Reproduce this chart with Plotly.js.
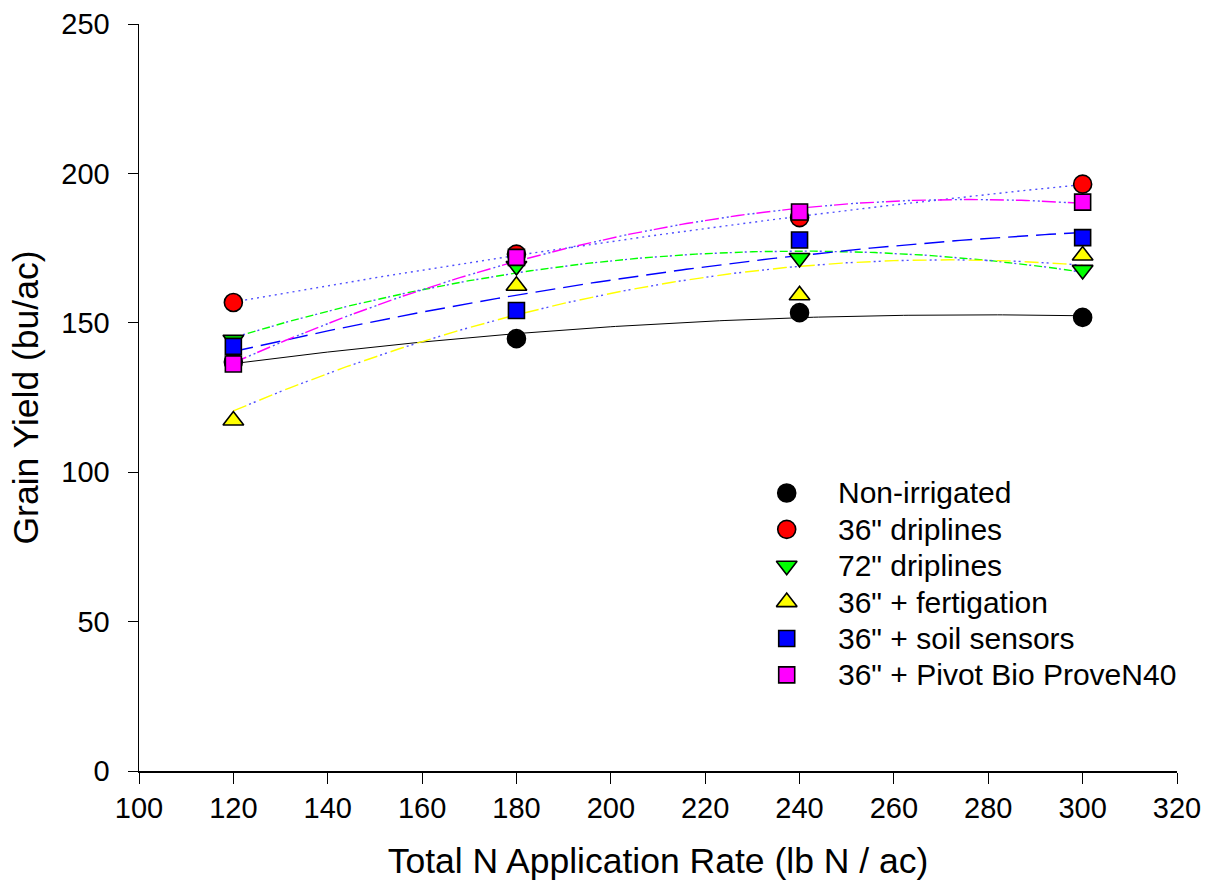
<!DOCTYPE html>
<html>
<head>
<meta charset="utf-8">
<script src="https://cdn.plot.ly/plotly-3.0.1.min.js"></script>
<style>html,body{margin:0;padding:0;background:#fff;}#chart{width:1207px;height:888px;}</style>
</head>
<body>
<div id="chart"></div>
<script>
// ---- data ----
const nRates = [120, 180, 240, 300];
const seriesNames = ['Non-irrigated', '36" driplines', '72" driplines', '36" + fertigation', '36" + soil sensors', '36" + Pivot Bio ProveN40'];
const nonIrrigated = [136.9, 144.7, 153.4, 151.8];
const drip36 = [156.8, 173.0, 185.2, 196.4];
const drip72 = [144.3, 169.0, 171.7, 167.7];
const fertigation = [117.3, 162.4, 159.2, 172.5];
const soilSensors = [142.1, 154.1, 177.7, 178.5];
const pivotBio = [136.2, 171.9, 187.1, 190.4];
const xTicks = [100, 120, 140, 160, 180, 200, 220, 240, 260, 280, 300, 320];
const yTicks = [0, 50, 100, 150, 200, 250];

// ---- styles ----
const seriesData = [nonIrrigated, drip36, drip72, fertigation, soilSensors, pivotBio];
const markerStyles = [
  {symbol: 'circle', color: '#000000', size: 18},
  {symbol: 'circle', color: '#ff0000', size: 18},
  {symbol: 'triangle-down', color: '#00ff00', size: 18},
  {symbol: 'triangle-up', color: '#ffff00', size: 18},
  {symbol: 'square', color: '#0000ff', size: 16},
  {symbol: 'square', color: '#ff00ff', size: 16}
];
const DOT = '#5050ff';
// fit line layers: [color, dash, width]
const fitStyles = [
  [['#000000', 'solid', 1]],
  [[DOT, '2px,4px', 1.4]],
  [['#00ff00', '8px,7px', 1.4], [DOT, '0px,10px,2px,3px', 1.4]],
  [['#ffff00', '14px,14px', 1.4], [DOT, '0px,17px,2px,3px,2px,4px', 1.4]],
  [['#0000ff', '20px,8px', 1.4]],
  [['#ff00ff', '14px,12px', 1.4], [DOT, '0px,17px,2px,3px,2px,2px', 1.4]]
];

// least-squares quadratic regression (as drawn in the reference)
function quadFit(xs, ys) {
  const S = [0,0,0,0,0], T = [0,0,0];
  for (let i = 0; i < xs.length; i++) {
    let p = 1;
    for (let k = 0; k < 5; k++) { S[k] += p; if (k < 3) T[k] += p * ys[i]; p *= xs[i]; }
  }
  const A = [[S[0],S[1],S[2],T[0]],[S[1],S[2],S[3],T[1]],[S[2],S[3],S[4],T[2]]];
  for (let c = 0; c < 3; c++) {
    for (let r = c + 1; r < 3; r++) {
      const f = A[r][c] / A[c][c];
      for (let k = c; k < 4; k++) A[r][k] -= f * A[c][k];
    }
  }
  const b = [0,0,0];
  for (let r = 2; r >= 0; r--) {
    let s = A[r][3];
    for (let k = r + 1; k < 3; k++) s -= A[r][k] * b[k];
    b[r] = s / A[r][r];
  }
  return x => b[0] + b[1] * x + b[2] * x * x;
}

const FONT = 'Arial, "Liberation Sans", sans-serif';
const traces = [];
const x0 = nRates[0], x1 = nRates[nRates.length - 1];
seriesData.forEach((ys, i) => {
  const f = quadFit(nRates, ys);
  const fx = [], fy = [];
  for (let k = 0; k <= 180; k++) { const x = x0 + (x1 - x0) * k / 180; fx.push(x); fy.push(f(x)); }
  fitStyles[i].forEach(([c, d, w]) => {
    traces.push({x: fx, y: fy, mode: 'lines', line: {color: c, dash: d, width: w}, showlegend: false, hoverinfo: 'skip'});
  });
});
seriesData.forEach((ys, i) => {
  const m = markerStyles[i];
  traces.push({
    x: nRates, y: ys, mode: 'markers', name: seriesNames[i], showlegend: false,
    marker: {symbol: m.symbol, color: m.color, size: m.size, line: {color: '#000000', width: 1.6}}
  });
});

// ---- legend (symbols on a hidden 0..1 overlay axis, labels as annotations) ----
const LEG_X = 0.624, LEG_TXT_X = 0.6715, LEG_Y0 = 0.3722, LEG_DY = 0.0487;
const legY = seriesNames.map((_, i) => LEG_Y0 - i * LEG_DY);
seriesNames.forEach((nm, i) => {
  const m = markerStyles[i];
  traces.push({
    x: [LEG_X], y: [legY[i]], xaxis: 'x2', yaxis: 'y2', mode: 'markers', showlegend: false, hoverinfo: 'skip',
    marker: {symbol: m.symbol, color: m.color, size: m.size, line: {color: '#000000', width: 1.6}}
  });
});
const annotations = seriesNames.map((nm, i) => ({
  text: nm, xref: 'paper', yref: 'paper', x: LEG_TXT_X, y: legY[i],
  xanchor: 'left', yanchor: 'middle', showarrow: false,
  font: {size: 30, family: FONT, color: '#000'}
}));

const layout = {
  width: 1207, height: 888,
  margin: {l: 139, r: 30, t: 24, b: 117},
  paper_bgcolor: '#ffffff', plot_bgcolor: '#ffffff',
  font: {family: FONT, color: '#000000', size: 29},
  showlegend: false,
  xaxis: {
    range: [100, 320], tickvals: xTicks, ticktext: xTicks.map(String),
    showgrid: false, zeroline: false, showline: true, linecolor: '#000', linewidth: 1.5,
    ticks: 'outside', ticklen: 11, tickwidth: 1, tickcolor: '#000',
    tickfont: {size: 29, family: FONT}, ticklabelstandoff: 0,
    title: {text: 'Total N Application Rate (lb N / ac)', font: {size: 35.5, family: FONT}, standoff: 25}
  },
  yaxis: {
    range: [0, 250], tickvals: yTicks, ticktext: yTicks.map(String),
    showgrid: false, zeroline: false, showline: true, linecolor: '#000', linewidth: 1.5,
    ticks: 'outside', ticklen: 10, tickwidth: 1, tickcolor: '#000',
    tickfont: {size: 29, family: FONT}, ticklabelstandoff: 12,
    title: {text: 'Grain Yield (bu/ac)', font: {size: 35.5, family: FONT}, standoff: 12}
  },
  xaxis2: {overlaying: 'x', range: [0, 1], visible: false, fixedrange: true},
  yaxis2: {overlaying: 'y', range: [0, 1], visible: false, fixedrange: true},
  annotations: annotations
};

Plotly.newPlot('chart', traces, layout, {staticPlot: true});
</script>
</body>
</html>
